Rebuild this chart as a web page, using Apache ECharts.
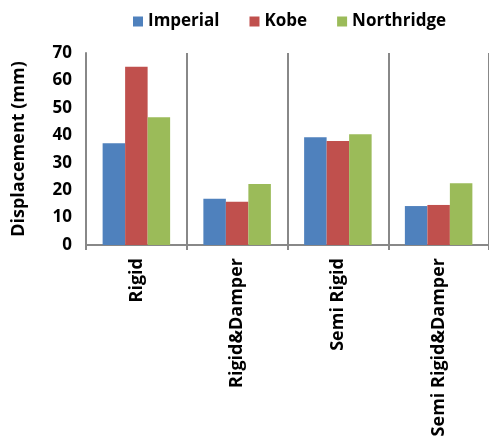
<!DOCTYPE html>
<html><head><meta charset="utf-8">
<script src="https://cdn.jsdelivr.net/npm/echarts@6/dist/echarts.min.js"></script>
<style>html,body{margin:0;padding:0;background:#fff}#c{width:489px;height:440px}</style>
</head><body><div id="c"></div>
<script>
const categories = ['Rigid', 'Rigid&Damper', 'Semi Rigid', 'Semi Rigid&Damper'];
const imperial = [37.1, 16.9, 39.3, 14.2];
const kobe = [65.0, 15.8, 37.9, 14.6];
const northridge = [46.6, 22.2, 40.4, 22.5];
const yTicks = [0, 10, 20, 30, 40, 50, 60, 70];

const font = '"Open Sans", sans-serif';
const chart = echarts.init(document.getElementById('c'));
chart.setOption({
  animation: false,
  legend: {
    top: 8, left: 128, itemWidth: 10, itemHeight: 10, itemGap: 30,
    icon: 'rect',
    textStyle: { fontFamily: font, fontWeight: 'bold', fontSize: 17, color: '#000' }
  },
  grid: { left: 86, top: 53, width: 406, height: 192 },
  xAxis: {
    type: 'category', data: categories,
    axisLine: { lineStyle: { color: '#888', width: 2 } },
    axisTick: { show: true, length: 5, lineStyle: { color: '#888', width: 2 } },
    splitLine: { show: true, lineStyle: { color: '#888', width: 2 } },
    axisLabel: { rotate: 90, fontFamily: font, fontWeight: 'bold', fontSize: 18, color: '#000', margin: 13 }
  },
  yAxis: {
    type: 'value', min: 0, max: 70, interval: 10,
    name: 'Displacement (mm)', nameLocation: 'middle', nameGap: 58,
    nameTextStyle: { fontFamily: font, fontWeight: 'bold', fontSize: 18, color: '#000' },
    axisLine: { show: true, lineStyle: { color: '#888', width: 2 } },
    axisTick: { show: false },
    splitLine: { show: false },
    axisLabel: { fontFamily: font, fontWeight: 'bold', fontSize: 17, color: '#000', margin: 14,
      formatter: v => yTicks.includes(v) ? String(v) : '' }
  },
  series: [
    { name: 'Imperial', type: 'bar', data: imperial, barGap: '0%', barCategoryGap: '33%', itemStyle: { color: '#4F81BD' } },
    { name: 'Kobe', type: 'bar', data: kobe, itemStyle: { color: '#C0504D' } },
    { name: 'Northridge', type: 'bar', data: northridge, itemStyle: { color: '#9BBB59' } }
  ]
});
</script></body></html>
